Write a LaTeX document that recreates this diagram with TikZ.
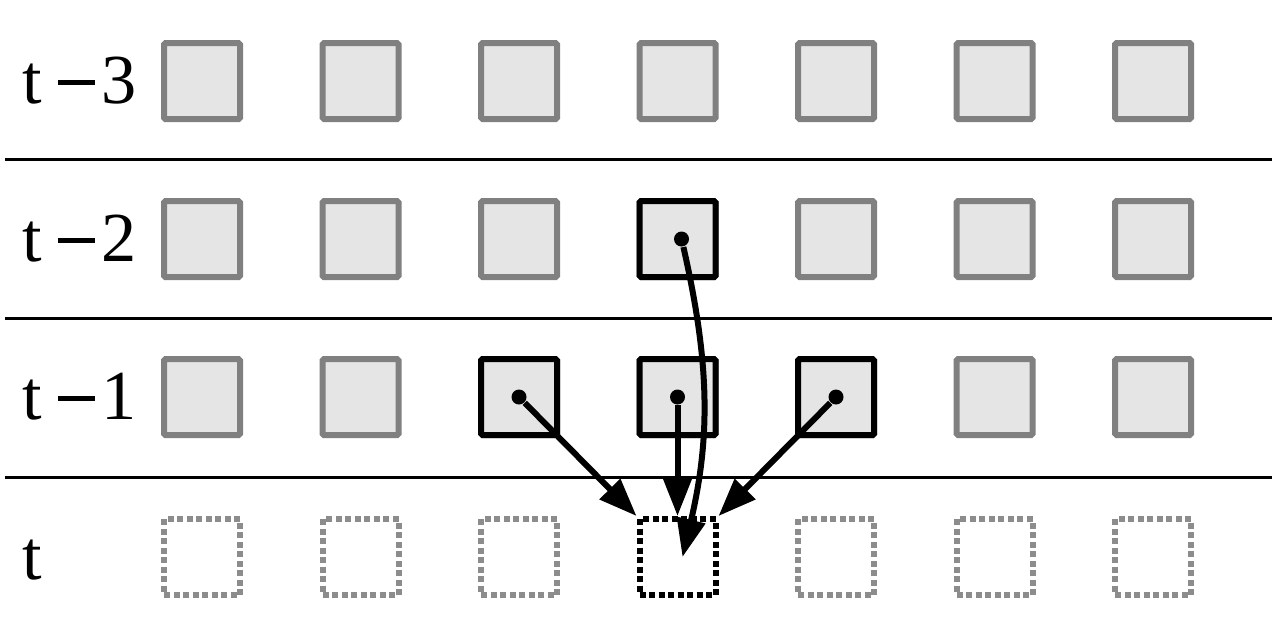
\documentclass[tikz,border=0pt]{standalone}
\usepackage{fontspec}
\setmainfont{Liberation Serif}
\usetikzlibrary{arrows.meta}

\newcommand{\tminus}[1]{t\kern4.5pt\rule[0.185cm]{0.37cm}{0.05cm}\kern2pt#1}

\begin{document}
\begin{tikzpicture}[
		cell/.style={draw=black!50,fill=black!10,line width=0.06cm,minimum size=0.76cm,inner sep=0,rounded corners=0.015cm},
		sel/.style={cell,draw=black},
		hole/.style={draw=black!45,line width=0.06cm,minimum size=0.76cm,inner sep=0,dash pattern=on 0.06cm off 0.035cm},
		dot/.style={circle,fill,inner sep=0,minimum size=0.15cm},
		arr/.style={line width=0.06cm,-{Triangle[length=0.38cm,width=0.28cm]}},
		lbl/.style={anchor=base west,font=\fontsize{20}{22}\selectfont}
	]
		\useasboundingbox (0,0) rectangle (12.8,-6.4);
		\foreach \r/\y/\n in {1/0.81/3,2/2.39/2,3/3.97/1} {
			\node[lbl] (l-\r) at (0.1,-\y-0.22) {\tminus{\n}};
			\foreach \c in {1,...,7}
				\node[cell] (b-\r-\c) at ({0.435+1.585*\c},-\y) {};
		}
		\node[lbl] (l-4) at (0.1,-5.79) {t};
		\foreach \c in {1,...,7}
			\node[hole] (b-4-\c) at ({0.435+1.585*\c},-5.57) {};
		\draw[line width=0.03cm] (0.05,-1.59) -- (12.72,-1.59);
		\draw[line width=0.03cm] (0.05,-3.18) -- (12.72,-3.18);
		\draw[line width=0.03cm] (0.05,-4.77) -- (12.72,-4.77);
		\node[sel] (b-2-4) at (b-2-4) {};
		\node[sel] (b-3-3) at (b-3-3) {};
		\node[sel] (b-3-4) at (b-3-4) {};
		\node[sel] (b-3-5) at (b-3-5) {};
		\node[hole,draw=black] (b-4-4) at (b-4-4) {};
		\node[dot] (d-2-4) at ([xshift=0.04cm]b-2-4) {};
		\node[dot] (d-3-3) at (b-3-3) {};
		\node[dot] (d-3-4) at (b-3-4) {};
		\node[dot] (d-3-5) at (b-3-5) {};
		\draw[arr] (d-3-3) -- (b-4-4.north west);
		\draw[arr] (d-3-4) -- (b-4-4.north);
		\draw[arr] (d-3-5) -- (b-4-4.north east);
		\draw[arr] (d-2-4) to[bend left=13] ([xshift=0.05cm]b-4-4.center);
	\end{tikzpicture}
\end{document}
